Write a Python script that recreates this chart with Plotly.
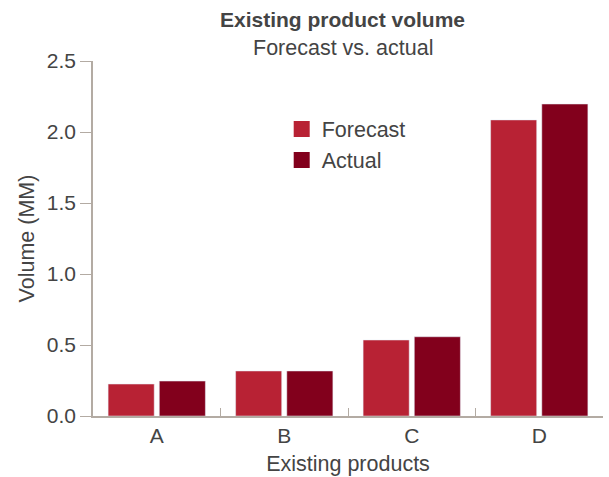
import plotly.graph_objects as go

categories = ["A", "B", "C", "D"]
forecast = [0.225, 0.317, 0.535, 2.085]
actual = [0.246, 0.317, 0.558, 2.197]
y_ticks = [0.0, 0.5, 1.0, 1.5, 2.0, 2.5]
y_tick_labels = ["0.0", "0.5", "1.0", "1.5", "2.0", "2.5"]
series_names = ["Forecast", "Actual"]
series_colors = ["#b82234", "#82001c"]

axis_col = "#b3aba3"
text_col = "#444444"
font_fam = "Liberation Sans, Arial, Helvetica, sans-serif"
fs = 21.5

fig = go.Figure()
for name, vals, col in zip(series_names, [forecast, actual], series_colors):
    fig.add_trace(go.Bar(x=categories, y=vals, name=name, marker_color=col,
                         showlegend=False))
# legend entries with larger square swatches
for name, col in zip(series_names, series_colors):
    fig.add_trace(go.Scatter(x=[None], y=[None], mode="markers", name=name,
                             marker=dict(symbol="square", size=16, color=col)))

fig.update_layout(
    width=609, height=477,
    margin=dict(l=93, r=6, t=61, b=61),
    paper_bgcolor="white", plot_bgcolor="white",
    font=dict(family=font_fam, color=text_col, size=fs),
    barmode="group", bargap=0.197, bargroupgap=0.1,
    legend=dict(
        x=0.37, y=0.866, xanchor="left", yanchor="top",
        bgcolor="rgba(0,0,0,0)", font=dict(size=fs, color=text_col),
        itemwidth=30, tracegroupgap=0,
    ),
    xaxis=dict(
        showline=True, linecolor=axis_col, linewidth=1.5,
        ticks="inside", tickson="boundaries", ticklen=8, tickcolor=axis_col,
        tickfont=dict(size=21),
        title=dict(text="Existing products", font=dict(size=fs), standoff=10),
        showgrid=False, zeroline=False,
    ),
    yaxis=dict(
        range=[0, 2.5], tickvals=y_ticks, ticktext=y_tick_labels,
        showline=True, linecolor=axis_col, linewidth=1.5,
        ticks="outside", ticklen=11, tickcolor=axis_col,
        tickfont=dict(size=21),
        title=dict(text="Volume (MM)", font=dict(size=fs), standoff=6),
        showgrid=False, zeroline=False,
    ),
    annotations=[
        dict(text="<b>Existing product volume</b>", xref="paper", yref="paper",
             x=0.49, y=(416 - 20) / 355, xanchor="center", yanchor="middle",
             showarrow=False, font=dict(size=21, color=text_col)),
        dict(text="Forecast vs. actual", xref="paper", yref="paper",
             x=0.49, y=(416 - 48) / 355, xanchor="center", yanchor="middle",
             showarrow=False, font=dict(size=fs, color=text_col)),
    ],
)

fig.write_html("out.html")
